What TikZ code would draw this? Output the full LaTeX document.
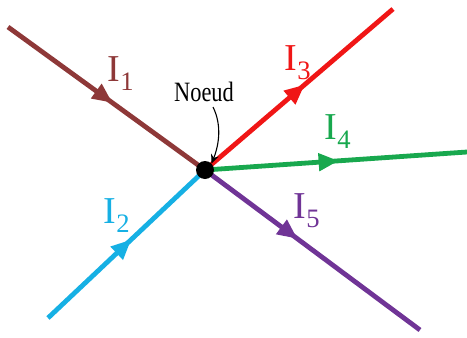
\documentclass[tikz,border=0pt]{standalone}
\usepackage{fontspec}
\newfontfamily\tnr{Liberation Serif}
\usetikzlibrary{arrows.meta,decorations.markings}
\definecolor{cbrown}{RGB}{142,56,56}
\definecolor{cred}{RGB}{240,22,22}
\definecolor{cgreen}{RGB}{24,168,78}
\definecolor{ccyan}{RGB}{22,176,228}
\definecolor{cpurple}{RGB}{112,52,150}
\tikzset{
  wire/.style={line width=4.8pt},
  midarrow/.style={postaction={decorate},decoration={markings,
     mark=at position #1 with {\arrow{Triangle[length=20pt,width=17pt]}}}},
  curlab/.style={font=\tnr\fontsize{38}{40}\selectfont, inner sep=0pt},
}
\begin{document}
\begin{tikzpicture}[x=1pt,y=-1pt]
\useasboundingbox (0,0) rectangle (467,338);
\coordinate (n) at (205,170);
\coordinate (e1) at (8,27);
\coordinate (e2) at (48,318);
\coordinate (e3) at (393,9);
\coordinate (e4) at (467,152);
\coordinate (e5) at (420,330);
\draw[wire,cbrown,midarrow=0.53] (e1) -- (n);
\draw[wire,ccyan,midarrow=0.53] (e2) -- (n);
\draw[wire,cred,midarrow=0.53] (n) -- (e3);
\draw[wire,cgreen,midarrow=0.51] (n) -- (e4);
\draw[wire,cpurple,midarrow=0.43] (n) -- (e5);
\node[circle,fill=black,minimum size=18pt,inner sep=0pt] (dot) at (n) {};
\node[curlab,text=cbrown] (l1) at (121,74) {I\textsubscript{1}};
\node[curlab,text=ccyan] (l2) at (117,216) {I\textsubscript{2}};
\node[curlab,text=cred] (l3) at (298,63) {I\textsubscript{3}};
\node[curlab,text=cgreen] (l4) at (338,132) {I\textsubscript{4}};
\node[curlab,text=cpurple] (l5) at (307,211) {I\textsubscript{5}};
\node[inner sep=0pt,xscale=0.8,font=\tnr\fontsize{28}{30}\selectfont] (noeud) at (204,92) {Noeud};
\draw[-{Stealth[length=9pt,width=8pt]},line width=1.1pt] (213,107) .. controls (222,125) and (219,145) .. (dot.north east);
\end{tikzpicture}
\end{document}
